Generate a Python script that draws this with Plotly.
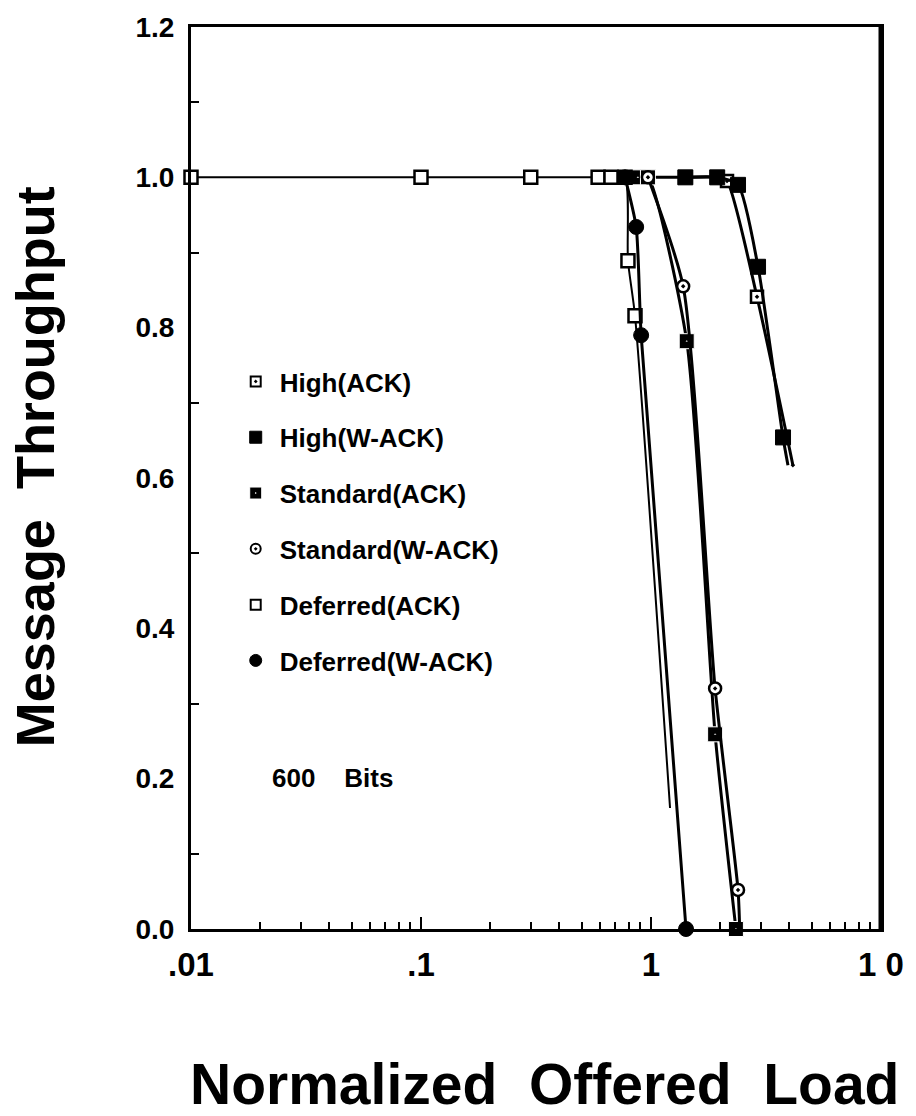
import plotly.graph_objects as go

# Normalized offered load (x) and message throughput (y) for each protocol variant
high_ack_x = [0.97, 1.41, 1.94, 2.14, 2.89, 4.14]
high_ack_y = [1.0, 1.0, 1.0, 0.995, 0.841, 0.617]

high_wack_x = [1.41, 1.94, 2.39, 2.92, 3.75, 3.94]
high_wack_y = [1.0, 1.0, 0.99, 0.881, 0.654, 0.617]

std_ack_x = [0.877, 0.97, 1.43, 1.90, 2.34]
std_ack_y = [1.0, 1.0, 0.782, 0.259, 0.0]

std_wack_x = [0.97, 1.38, 1.90, 2.39, 2.43]
std_wack_y = [1.0, 0.855, 0.32, 0.052, 0.0]

def_ack_x = [0.01, 0.1, 0.3, 0.589, 0.67, 0.771, 0.794, 0.852, 1.21]
def_ack_y = [1.0, 1.0, 1.0, 1.0, 1.0, 1.0, 0.889, 0.816, 0.161]

def_wack_x = [0.771, 0.862, 0.906, 1.42]
def_wack_y = [1.0, 0.934, 0.79, 0.0]

x_tickvals = [0.01, 0.1, 1, 10]
x_ticktext = [".01", ".1", "1", "1 0"]
y_tickvals = [0.0, 0.2, 0.4, 0.6, 0.8, 1.0, 1.2]
y_ticktext = ["0.0", "0.2", "0.4", "0.6", "0.8", "1.0", "1.2"]

FONT = "Liberation Sans, Arial, Helvetica, sans-serif"

# name, x, y, symbol, fill, outline, outline width, size, legend size, line width, marker on last point
series = [
    ("High(ACK)", high_ack_x, high_ack_y, "square-dot", "white", "black", 2.5, 12, 10, 3, False),
    ("High(W-ACK)", high_wack_x, high_wack_y, "square", "black", "black", 1, 15, 12, 3, False),
    ("Standard(ACK)", std_ack_x, std_ack_y, "square-dot", "black", "white", 1, 15, 12, 3, True),
    ("Standard(W-ACK)", std_wack_x, std_wack_y, "circle-dot", "white", "black", 2.5, 12, 10, 3, False),
    ("Deferred(ACK)", def_ack_x, def_ack_y, "square", "white", "black", 2.5, 13, 10, 2, False),
    ("Deferred(W-ACK)", def_wack_x, def_wack_y, "circle", "black", "black", 1, 15, 12, 3, True),
]

fig = go.Figure()

for name, xs, ys, sym, fill, edge, ew, size, lsize, lw, last_marker in series:
    sizes = [size] * len(xs)
    if not last_marker:
        sizes[-1] = 0
    fig.add_trace(go.Scatter(
        x=xs, y=ys, mode="lines+markers", name=name,
        line=dict(color="black", width=lw, shape="spline", smoothing=0.6),
        marker=dict(symbol=sym, size=sizes, color=fill, opacity=1,
                    line=dict(color=edge, width=ew)),
        cliponaxis=False, showlegend=False, legendgroup=name,
    ))

# Legend entries show the marker symbol only
for name, xs, ys, sym, fill, edge, ew, size, lsize, lw, last_marker in series:
    fig.add_trace(go.Scatter(
        x=[None], y=[None], mode="markers", name=name,
        marker=dict(symbol=sym, size=lsize, color=fill,
                    line=dict(color=edge, width=min(ew, 2))),
        legendgroup=name, showlegend=True,
    ))

minor_x = [m * 10 ** e for e in (-2, -1, 0) for m in range(2, 10)]

fig.update_layout(
    width=916, height=1116,
    margin=dict(l=191, r=35, t=22, b=187),
    paper_bgcolor="white", plot_bgcolor="white",
    font=dict(family=FONT, color="black"),
    legend=dict(
        x=0.059, y=0.633, xanchor="left", yanchor="top",
        font=dict(family=FONT, size=26, color="black", weight="bold"),
        bgcolor="rgba(0,0,0,0)", tracegroupgap=19, itemwidth=38,
    ),
    xaxis=dict(
        type="log", range=[-2, 1],
        tickmode="array", tickvals=x_tickvals, ticktext=x_ticktext,
        ticks="inside", ticklen=12, tickwidth=2, tickcolor="black",
        minor=dict(tickmode="array", tickvals=minor_x, ticks="inside",
                   ticklen=7, tickwidth=2, tickcolor="black", showgrid=False),
        showline=True, linewidth=3, linecolor="black", mirror=True,
        showgrid=False, zeroline=False,
        tickfont=dict(family=FONT, size=33, color="black", weight="bold"),
        ticklabelstandoff=4,
    ),
    yaxis=dict(
        range=[0, 1.2],
        tickmode="array", tickvals=y_tickvals, ticktext=y_ticktext,
        ticks="",
        minor=dict(tickmode="array", tickvals=[0.1, 0.3, 0.5, 0.7, 0.9, 1.1],
                   ticks="inside", ticklen=8, tickwidth=2, tickcolor="black",
                   showgrid=False),
        showline=True, linewidth=3, linecolor="black", mirror=True,
        showgrid=False, zeroline=False,
        tickfont=dict(family=FONT, size=28, color="black", weight="bold"),
        ticklabelstandoff=8,
    ),
    shapes=[
        # heavier right-hand frame edge
        dict(type="line", xref="paper", yref="paper", x0=1, x1=1, y0=0, y1=1,
             line=dict(color="black", width=5)),
    ],
    annotations=[
        dict(text="Message  Throughput", xref="paper", yref="paper",
             x=-0.226, y=0.512, xanchor="center", yanchor="middle",
             textangle=-90, showarrow=False,
             font=dict(family=FONT, size=54, color="black", weight="bold")),
        dict(text="Normalized  Offered  Load", xref="paper", yref="paper",
             x=0.513, y=-0.172, xanchor="center", yanchor="middle",
             showarrow=False,
             font=dict(family=FONT, size=57, color="black", weight="bold")),
        dict(text="600    Bits", xref="x", yref="y",
             x=-1.655, y=0.201, xanchor="left", yanchor="middle",
             showarrow=False,
             font=dict(family=FONT, size=26, color="black", weight="bold")),
    ],
)

fig.write_html("out.html")
